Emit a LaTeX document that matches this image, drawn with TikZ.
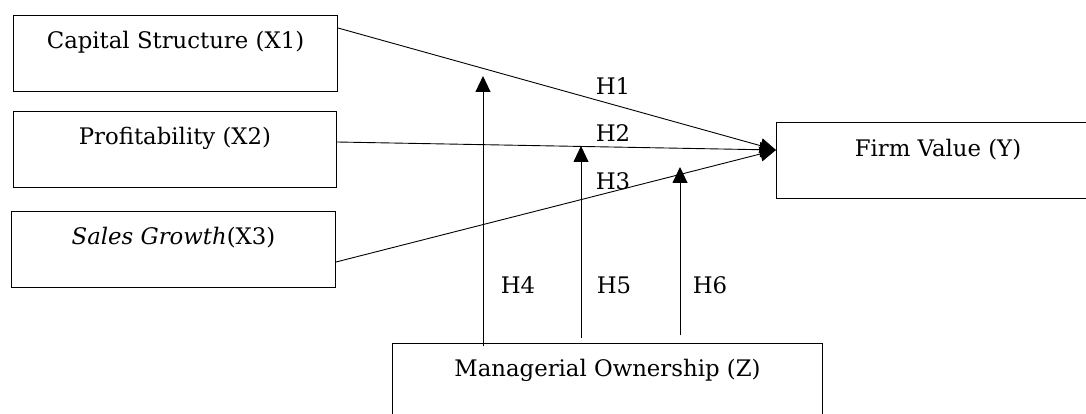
\documentclass[tikz,border=0pt]{standalone}
\usepackage{fontspec}
\setmainfont{DejaVu Serif}
\usetikzlibrary{arrows.meta,calc}
\begin{document}
\begin{tikzpicture}[x=1pt,y=-1pt,
  box/.style={draw,line width=1pt,rectangle,inner sep=0pt,anchor=north west},
  lbl/.style={font=\fontsize{22.8}{27}\selectfont,inner sep=0pt,anchor=center},
  conn/.style={line width=0.9pt,-{Triangle[length=16pt,width=15pt]}},
  mod/.style={line width=0.9pt,-{Triangle[length=16pt,width=15pt]}}]
\useasboundingbox (0,0) rectangle (1086,414);
\clip (0,0) rectangle (1086,414);
% boxes
\node[box,minimum width=324pt,minimum height=76pt] (x1) at (13,15) {};
\node[box,minimum width=323pt,minimum height=76pt] (x2) at (13,111) {};
\node[box,minimum width=324pt,minimum height=76pt] (x3) at (11,211) {};
\node[box,minimum width=324pt,minimum height=76pt] (y) at (776,122) {};
\node[box,minimum width=430pt,minimum height=80pt] (z) at (392,343) {};
% texts
\node[lbl] (tx1) at ($(x1.north)+(0,27)$) {Capital Structure (X1)};
\node[lbl] (tx2) at ($(x2.north)+(0,27)$) {Profitability (X2)};
\node[lbl] (tx3) at ($(x3.north)+(0,27)$) {\textit{Sales Growth}(X3)};
\node[lbl] (ty) at (938,150) {Firm Value (Y)};
\node[lbl] (tz) at ($(z.north)+(0,27)$) {Managerial Ownership (Z)};
% connector endpoints
\coordinate (s1) at ($(x1.north east)+(0,13)$);
\coordinate (s2) at ($(x2.north east)+(0,31)$);
\coordinate (s3) at ($(x3.north east)+(0,51)$);
\coordinate (t) at ($(y.north west)+(0,28)$);
\draw[conn] (s1) -- (t);
\draw[conn] (s2) -- (t);
\draw[conn] (s3) -- (t);
% moderation arrows
\coordinate (m4) at (483,76);
\coordinate (m5) at (581,146);
\coordinate (m6) at (680,167);
\draw[mod] (483,346) -- (m4);
\draw[mod] (581,338) -- (m5);
\draw[mod] (680,335) -- (m6);
% hypothesis labels
\node[lbl] (h1) at (613,86) {H1};
\node[lbl] (h2) at (613,133) {H2};
\node[lbl] (h3) at (613,181) {H3};
\node[lbl] (h4) at (518,285) {H4};
\node[lbl] (h5) at (614,285) {H5};
\node[lbl] (h6) at (710,285) {H6};
\end{tikzpicture}
\end{document}
